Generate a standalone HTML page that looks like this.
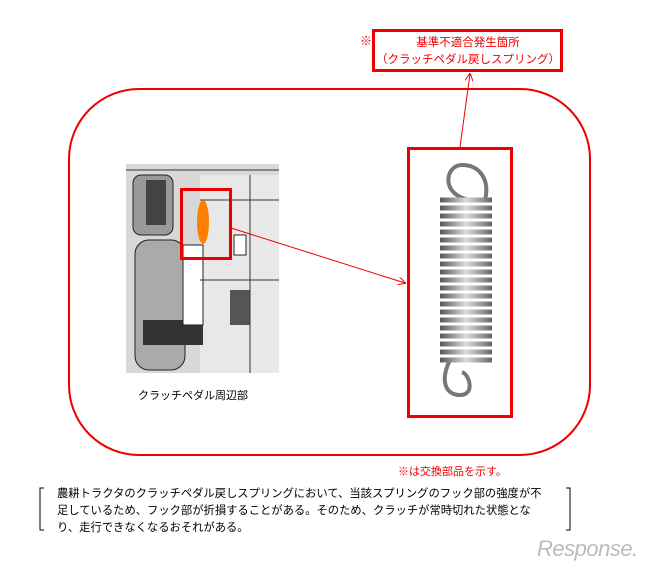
<!DOCTYPE html>
<html><head><meta charset="utf-8"><style>
body{margin:0;width:660px;height:569px;background:#fff;position:relative;overflow:hidden;font-family:"Liberation Sans","Noto Sans CJK JP",sans-serif}
.a{position:absolute}
</style></head><body>
<svg class="a" style="left:0;top:0" width="660" height="569">
<defs>
<marker id="ar" markerWidth="8" markerHeight="8" refX="7" refY="4" orient="auto"><path d="M0,0 L8,4 L0,8" fill="none" stroke="#e00" stroke-width="1"/></marker>
<linearGradient id="g" x1="0" x2="1"><stop offset="0" stop-color="#555"/><stop offset=".5" stop-color="#ddd"/><stop offset="1" stop-color="#666"/></linearGradient>
</defs>
<rect x="69" y="89" width="521" height="366" rx="70" fill="none" stroke="#e00" stroke-width="2"/>
<rect x="373.5" y="30.5" width="188" height="40" fill="#fff" stroke="#e00" stroke-width="3"/>
<!-- photo -->
<rect x="126" y="164" width="153" height="209" fill="#d8d8d8"/>
<rect x="200" y="175" width="79" height="198" fill="#e8e8e8"/>
<rect x="133" y="175" width="40" height="60" rx="8" fill="#999" stroke="#222"/>
<rect x="146" y="180" width="20" height="45" fill="#444"/>
<rect x="135" y="240" width="50" height="130" rx="14" fill="#aaa" stroke="#222"/>
<rect x="143" y="320" width="60" height="25" fill="#333"/>
<rect x="183" y="245" width="20" height="80" fill="#fff" stroke="#222"/>
<rect x="234" y="235" width="12" height="20" fill="#fff" stroke="#222"/>
<rect x="230" y="290" width="20" height="35" fill="#555"/>
<path d="M126,170 H279 M200,200 H279 M200,280 H279 M250,175 V373" stroke="#333" stroke-width="1"/>
<ellipse cx="203" cy="222" rx="6" ry="22" fill="#ff7f00"/>
<rect x="181.5" y="189.5" width="49" height="69" fill="none" stroke="#e00" stroke-width="3"/>
<line x1="231" y1="228" x2="405" y2="283" stroke="#e00" stroke-width="1" marker-end="url(#ar)"/>
<line x1="460" y1="147" x2="470" y2="74" stroke="#e00" stroke-width="1" marker-end="url(#ar)"/>
<!-- spring -->
<rect x="408.5" y="148.5" width="103" height="268" fill="#fff" stroke="#e00" stroke-width="3"/>
<path d="M470,200 C440,195 445,165 462,165 C480,165 490,180 485,200" fill="none" stroke="#777" stroke-width="4"/>
<path d="M450,360 C440,380 445,395 460,395 C475,395 470,375 462,372" fill="none" stroke="#777" stroke-width="4"/>
<g stroke="url(#g)" stroke-width="5" fill="none">
<path d="M440,200 H492 M440,208 H492 M440,216 H492 M440,224 H492 M440,232 H492 M440,240 H492 M440,248 H492 M440,256 H492 M440,264 H492 M440,272 H492 M440,280 H492 M440,288 H492 M440,296 H492 M440,304 H492 M440,312 H492 M440,320 H492 M440,328 H492 M440,336 H492 M440,344 H492 M440,352 H492 M440,360 H492"/>
</g>
<path d="M44,488 H40 V530 H44 M566,488 H570 V530 H566" stroke="#000" fill="none"/>
</svg>
<div class="a" style="left:360px;top:32px;color:#e00;font-size:12px">※</div>
<div class="a" style="left:374px;top:35px;width:188px;text-align:center;color:#e00;font-size:11.5px;line-height:17px">基準不適合発生箇所<br>（クラッチペダル戻しスプリング）</div>
<div class="a" style="left:138px;top:387px;font-size:11px">クラッチペダル周辺部</div>
<div class="a" style="left:398px;top:463px;font-size:11px;color:#e00">※は交換部品を示す。</div>
<div class="a" style="left:57px;top:486px;font-size:11.3px;line-height:17px;white-space:nowrap">農耕トラクタのクラッチペダル戻しスプリングにおいて、当該スプリングのフック部の強度が不<br>足しているため、フック部が折損することがある。そのため、クラッチが常時切れた状態とな<br>り、走行できなくなるおそれがある。</div>
<div class="a" style="left:537px;top:536px;font-size:22px;color:#bbb;font-style:italic;letter-spacing:-0.5px">Response.</div>
</body></html>
